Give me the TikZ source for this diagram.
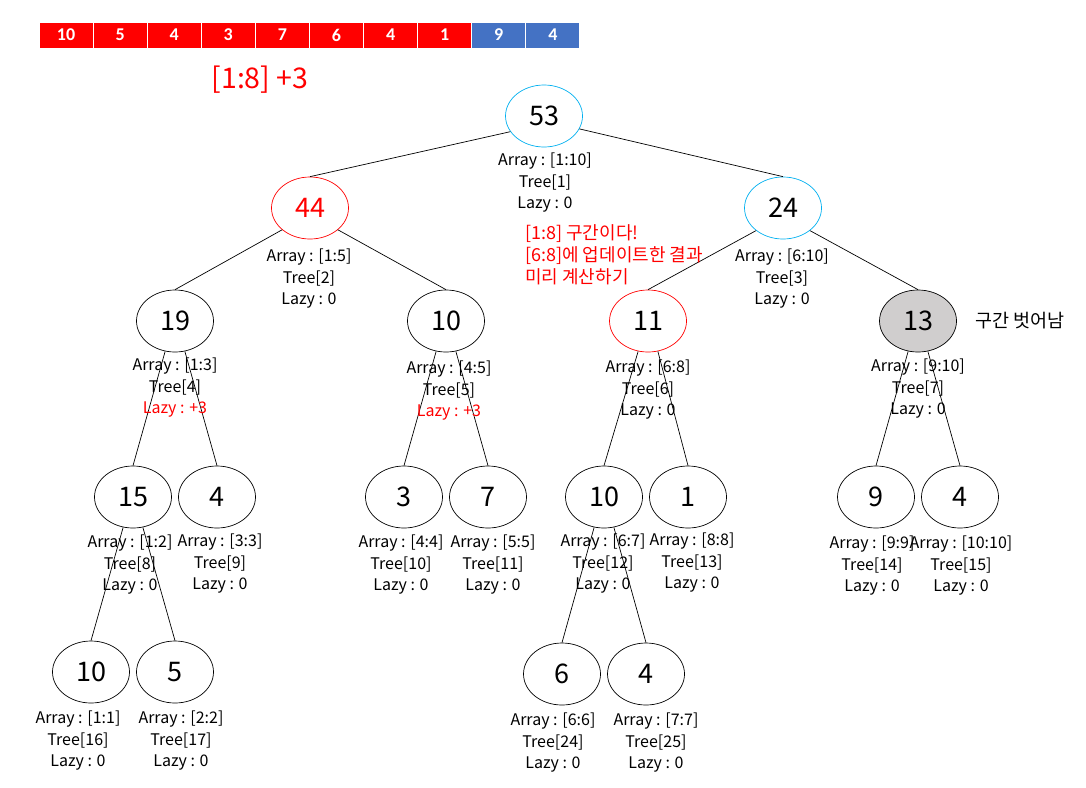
\documentclass[tikz,border=0pt]{standalone}
\usepackage{fontspec}
\setmainfont{Noto Sans CJK KR}
\newfontfamily\cellfont{Carlito}
\usetikzlibrary{shapes.geometric}
\definecolor{cblue}{RGB}{0,176,240}
\definecolor{cellblue}{RGB}{68,114,196}
\definecolor{cgrey}{RGB}{208,206,206}
\definecolor{cred}{RGB}{255,0,0}
\begin{document}
\begin{tikzpicture}[x=1pt,y=-1pt,
 tn/.style={ellipse,draw=black,line width=0.7pt,minimum width=77pt,minimum height=62pt,inner sep=0pt,font=\fontsize{27}{30}\selectfont},
 lab/.style={align=center,font=\fontsize{16}{21.5}\selectfont,inner sep=0pt},
 cell/.style={draw=white,line width=1pt,minimum width=54pt,minimum height=26pt,inner sep=0pt,text=white,font=\cellfont\bfseries\fontsize{18}{20}\selectfont},
 edge/.style={line width=0.7pt}]
\useasboundingbox (0,0) rectangle (1086,787);
\fill[white] (0,0) rectangle (1086,787);

% array
\foreach \v [count=\i from 0] in {10,5,4,3,7,6,4,1,9,4}{
  \pgfmathsetmacro\cx{39+54.1*\i+27}
  \ifnum\i<8
    \node[cell,fill=cred] (c\i) at (\cx,35) {\v};
  \else
    \node[cell,fill=cellblue] (c\i) at (\cx,35) {\v};
  \fi
}
\node[text=cred,font=\fontsize{28.5}{32}\selectfont] (upd) at (260,80) {[1:8] +3};

% tree nodes
\node[tn,draw=cblue] (n1) at (544,116) {53};
\node[tn,draw=cred,text=cred] (n2) at (310,208) {44};
\node[tn,draw=cblue] (n3) at (783,208) {24};
\node[tn] (n4) at (175,321) {19};
\node[tn] (n5) at (446,321) {10};
\node[tn,draw=cred] (n6) at (648,321) {11};
\node[tn,fill=cgrey] (n7) at (918,321) {13};
\node[tn] (n8) at (133,497) {15};
\node[tn] (n9) at (217,497) {4};
\node[tn] (n10) at (404,497) {3};
\node[tn] (n11) at (488,497) {7};
\node[tn] (n12) at (604,497) {10};
\node[tn] (n13) at (688,497) {1};
\node[tn] (n14) at (876,497) {9};
\node[tn] (n15) at (960,497) {4};
\node[tn] (n16) at (91,672) {10};
\node[tn] (n17) at (175,672) {5};
\node[tn] (n24) at (562,674) {6};
\node[tn] (n25) at (646,674) {4};

% edges
\draw[edge] (n1.-155) -- (n2.north);
\draw[edge] (n1.-20) -- (n3.north);
\draw[edge] (n2.-142) -- (n4.north);
\draw[edge] (n2.-38) -- (n5.north);
\draw[edge] (n3.-140) -- (n6.north);
\draw[edge] (n3.-40) -- (n7.north);
\draw[edge] (n4.-108) -- (n8.north);
\draw[edge] (n4.-72) -- (n9.north);
\draw[edge] (n5.-108) -- (n10.north);
\draw[edge] (n5.-72) -- (n11.north);
\draw[edge] (n6.-108) -- (n12.north);
\draw[edge] (n6.-72) -- (n13.north);
\draw[edge] (n7.-108) -- (n14.north);
\draw[edge] (n7.-72) -- (n15.north);
\draw[edge] (n8.-108) -- (n16.north);
\draw[edge] (n8.-72) -- (n17.north);
\draw[edge] (n12.-108) -- (n24.north);
\draw[edge] (n12.-72) -- (n25.north);

% labels
\node[lab] (l1) at (545,183) {Array : [1:10]\\Tree[1]\\Lazy : 0};
\node[lab] (l2) at (309,279) {Array : [1:5]\\Tree[2]\\Lazy : 0};
\node[lab] (l3) at (782,279) {Array : [6:10]\\Tree[3]\\Lazy : 0};
\node[lab] (l4) at (175,388) {Array : [1:3]\\Tree[4]\\\textcolor{cred}{Lazy : +3}};
\node[lab] (l5) at (449,391) {Array : [4:5]\\Tree[5]\\\textcolor{cred}{Lazy : +3}};
\node[lab] (l6) at (648,390) {Array : [6:8]\\Tree[6]\\Lazy : 0};
\node[lab] (l7) at (918,389) {Array : [9:10]\\Tree[7]\\Lazy : 0};
\node[lab] (l8) at (130,565) {Array : [1:2]\\Tree[8]\\Lazy : 0};
\node[lab] (l9) at (220,564) {Array : [3:3]\\Tree[9]\\Lazy : 0};
\node[lab] (l10) at (401,565) {Array : [4:4]\\Tree[10]\\Lazy : 0};
\node[lab] (l11) at (493,565) {Array : [5:5]\\Tree[11]\\Lazy : 0};
\node[lab] (l12) at (603,564) {Array : [6:7]\\Tree[12]\\Lazy : 0};
\node[lab] (l13) at (692,563) {Array : [8:8]\\Tree[13]\\Lazy : 0};
\node[lab] (l14) at (872,566) {Array : [9:9]\\Tree[14]\\Lazy : 0};
\node[lab] (l15) at (961,566) {Array : [10:10]\\Tree[15]\\Lazy : 0};
\node[lab] (l16) at (78,741) {Array : [1:1]\\Tree[16]\\Lazy : 0};
\node[lab] (l17) at (181,741) {Array : [2:2]\\Tree[17]\\Lazy : 0};
\node[lab] (l24) at (553,743) {Array : [6:6]\\Tree[24]\\Lazy : 0};
\node[lab] (l25) at (656,743) {Array : [7:7]\\Tree[25]\\Lazy : 0};

% notes
\node[anchor=west,align=left,text=cred,inner sep=0pt,font=\fontsize{18}{22}\selectfont] (note) at (525,255) {[1:8] 구간이다!\\{}[6:8]에 업데이트한 결과\\미리 계산하기};
\node[anchor=west,inner sep=0pt,font=\fontsize{18.5}{20}\selectfont] (out) at (975,321) {구간 벗어남};
\end{tikzpicture}
\end{document}
